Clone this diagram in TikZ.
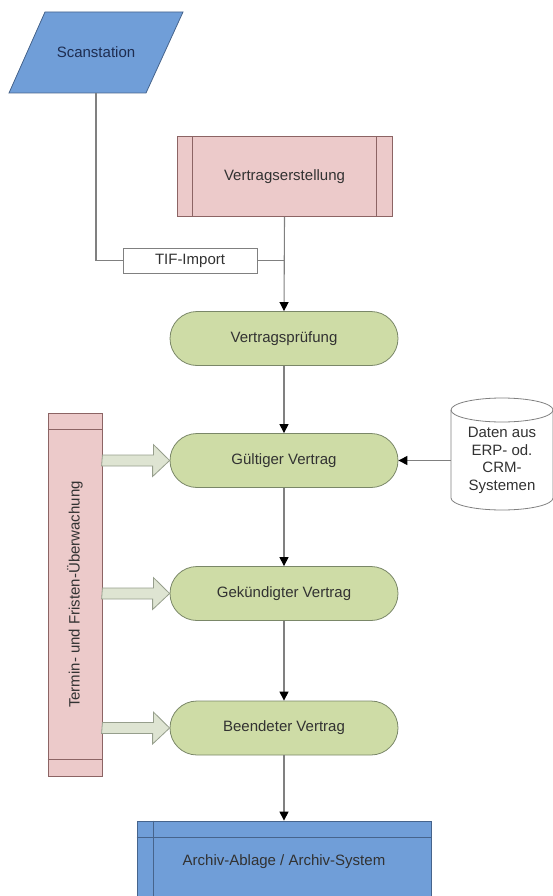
\documentclass[tikz,border=0pt]{standalone}
\usepackage{fontspec}
\setmainfont{Liberation Sans}
\usetikzlibrary{arrows.meta}

\begin{document}
\begin{tikzpicture}[x=1pt,y=-1pt,
	every node/.style={font=\fontsize{15}{17.5}\selectfont, text=txtcolor},
	bluebox/.style={draw=bluedraw, fill=bluefill, line width=0.8pt},
	pinkbox/.style={draw=pinkdraw, fill=pinkfill, line width=0.8pt},
	greenbox/.style={draw=greendraw, fill=greenfill, line width=0.8pt, rounded corners=27pt, minimum width=228pt, minimum height=54pt},
	tifbox/.style={draw=linegrey, fill=white, line width=0.8pt, minimum width=134pt, minimum height=25pt},
	conn/.style={draw=linegrey, line width=1.1pt},
	flow/.style={conn, -{Triangle[length=9pt,width=9pt,color=black]}},
	blockarrow/.style={draw=arrowdraw, fill=arrowfill, line width=0.8pt}]
	\definecolor{bluefill}{RGB}{112,158,216}
	\definecolor{bluedraw}{RGB}{70,100,140}
	\definecolor{pinkfill}{RGB}{236,202,202}
	\definecolor{pinkdraw}{RGB}{140,100,100}
	\definecolor{greenfill}{RGB}{206,220,166}
	\definecolor{greendraw}{RGB}{122,135,104}
	\definecolor{arrowfill}{RGB}{222,228,210}
	\definecolor{arrowdraw}{RGB}{150,158,140}
	\definecolor{linegrey}{RGB}{128,128,128}
	\definecolor{txtcolor}{RGB}{50,50,50}
	\useasboundingbox (0,0) rectangle (553,896);
	% Eingang
	\draw[bluebox] (45,12) -- (183,12) -- (146,93) -- (9,93) -- cycle;
	\node[minimum width=100pt, minimum height=81pt, text={rgb,255:red,30;green,45;blue,80}] (scan) at (96,52.5) {Scanstation};
	\node[pinkbox, minimum width=215pt, minimum height=80pt] (ers) at (284.5,176.5) {Vertragserstellung};
	\draw[pinkdraw, line width=0.8pt] ([xshift=16pt]ers.north west) -- ([xshift=16pt]ers.south west);
	\draw[pinkdraw, line width=0.8pt] ([xshift=-16pt]ers.north east) -- ([xshift=-16pt]ers.south east);
	\node[tifbox] (tif) at (190,260.5) {TIF-Import};
	% Vertragsstatus
	\node[greenbox] (pruef) at (284,338.5) {Vertragsprüfung};
	\node[greenbox] (gv) at (284,460.5) {Gültiger Vertrag};
	\node[greenbox] (gk) at (284,593.5) {Gekündigter Vertrag};
	\node[greenbox] (be) at (284,728) {Beendeter Vertrag};
	% Archiv
	\node[bluebox, minimum width=294pt, minimum height=82pt] (arch) at (284,862) {Archiv-Ablage / Archiv-System};
	\draw[bluedraw, line width=0.8pt] ([xshift=17pt]arch.north west) -- ([xshift=17pt]arch.south west);
	\draw[bluedraw, line width=0.8pt] ([yshift=-17pt]arch.north west) -- ([yshift=-17pt]arch.north east);
	% Ueberwachung
	\node[pinkbox, minimum width=54pt, minimum height=363pt] (term) at (75,594.5) {};
	\draw[pinkdraw, line width=0.8pt] ([yshift=-17pt]term.north west) -- ([yshift=-17pt]term.north east);
	\draw[pinkdraw, line width=0.8pt] ([yshift=17pt]term.south west) -- ([yshift=17pt]term.south east);
	\node[rotate=90] (termtext) at (term.center) {Termin- und Fristen-Überwachung};
	\foreach \t in {gv,gk,be}
		\draw[blockarrow] (term.east |- \t.west) ++(0,-5.5) -- ++(51,0) -- ++(0,-10.5) -- (\t.west) -- ++(-17,16) -- ++(0,-10.5) -- ++(-51,0) -- cycle;
	% Datenbank
	\draw[linegrey, fill=white, line width=0.8pt] (451,410) -- (451,498) arc[start angle=180, end angle=360, x radius=51pt, y radius=12pt] -- (553,410) arc[start angle=0, end angle=180, x radius=51pt, y radius=12pt] -- cycle;
	\draw[linegrey, line width=0.8pt] (451,410) arc[start angle=180, end angle=360, x radius=51pt, y radius=12pt];
	\node[align=center, minimum width=102pt] (db) at (502,460.5) {Daten aus\\ERP- od.\\CRM-\\Systemen};
	% Verbindungen
	\draw[conn] (scan.south) |- (tif.west);
	\draw[conn] (tif.east) -- (tif.east -| ers.south);
	\draw[flow] (ers.south) -- (pruef.north);
	\draw[flow] (pruef) -- (gv);
	\draw[flow] (gv) -- (gk);
	\draw[flow] (gk) -- (be);
	\draw[flow] (be) -- (arch);
	\draw[flow] (db.west) -- (gv.east);
\end{tikzpicture}
\end{document}
